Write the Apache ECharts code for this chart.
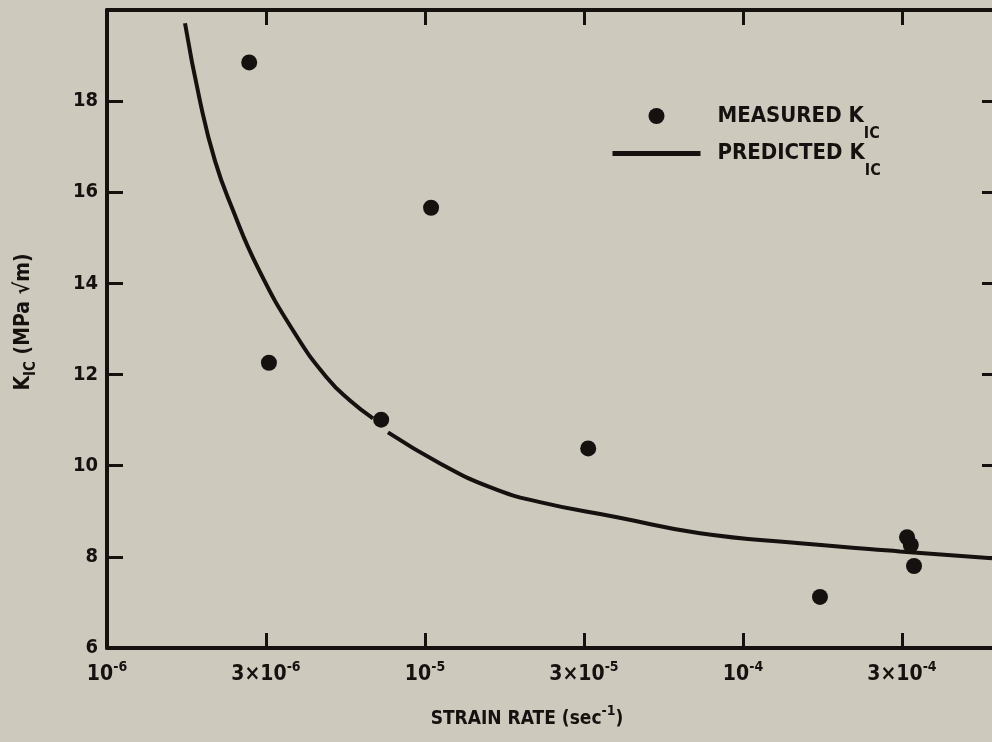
<!DOCTYPE html>
<html><head><meta charset="utf-8">
<script src="https://cdn.jsdelivr.net/npm/echarts@6/dist/echarts.min.js"></script>
<style>html,body{margin:0;padding:0;background:#cdc9bd;} #c{width:992px;height:742px;}</style>
</head><body><div id="c"></div>
<script>
// Strain rate (sec^-1) and K_IC (MPa·√m)
const measuredRate = [2.80e-6, 3.23e-6, 7.28e-6, 1.045e-5, 3.26e-5, 1.746e-4, 3.28e-4, 3.37e-4, 3.45e-4];
const measuredKIC  = [18.85, 12.26, 11.01, 15.66, 10.38, 7.12, 8.43, 8.26, 7.80];
const predictedRateA = [1.759e-6, 1.961e-6, 2.186e-6, 2.472e-6, 2.983e-6, 3.901e-6, 4.918e-6, 5.807e-6, 6.862e-6];
const predictedKICA  = [19.71, 18.00, 16.69, 15.66, 14.34, 12.90, 11.93, 11.43, 11.04];
const predictedRateB = [7.649e-6, 1.115e-5, 1.601e-5, 2.299e-5, 4.017e-5, 7.324e-5, 1.511e-4, 3.116e-4, 6.067e-4];
const predictedKICB  = [10.73, 10.05, 9.53, 9.20, 8.87, 8.52, 8.30, 8.12, 7.97];
const yTicks = [6, 8, 10, 12, 14, 16, 18];
const xTickExponents = [-6, -5.5, -5, -4.5, -4, -3.5];
const legendNames = ['MEASURED', 'PREDICTED'];

const ink = '#15110f';
const font = "'Liberation Sans Narrow', 'DejaVu Sans Condensed', sans-serif";
const toPts = (rs, ks) => rs.map((r, i) => [Math.log10(r), ks[i]]);

function xLabel(v) {
  const ok = xTickExponents.some(t => Math.abs(t - v) < 1e-6);
  if (!ok) return '';
  const e = Math.floor(v + 1e-9);
  if (Math.abs(v - e) < 1e-6) return '{b|10}{sup|' + e + '}';
  return '{b|3×10}{sup|' + e + '}';
}

const rich = {
  b: { fontFamily: font, fontWeight: 'bold', fontSize: 21, color: ink, lineHeight: 30 },
  t: { fontFamily: font, fontWeight: 'bold', fontSize: 19, color: ink, lineHeight: 30 },
  y: { fontFamily: font, fontWeight: 'bold', fontSize: 20, color: ink, lineHeight: 30 },
  sup: { fontFamily: font, fontWeight: 'bold', fontSize: 14, color: ink, verticalAlign: 'top', lineHeight: 30 },
  sub: { fontFamily: font, fontWeight: 'bold', fontSize: 15, color: ink, verticalAlign: 'bottom', lineHeight: 30 }
};
const legendRich = {
  b: { fontFamily: font, fontWeight: 'bold', fontSize: 22, color: ink, lineHeight: 51 },
  sub: { fontFamily: font, fontWeight: 'bold', fontSize: 16, color: ink, verticalAlign: 'bottom', lineHeight: 6 }
};

const chart = echarts.init(document.getElementById('c'), null, { renderer: 'canvas' });
chart.setOption({
  backgroundColor: '#cdc9bd',
  animation: false,
  textStyle: { fontFamily: font, color: ink },
  grid: { left: 107, top: 10, width: 888, height: 638, containLabel: false, outerBoundsMode: 'none' },
  legend: {
    orient: 'vertical', left: 610, top: 105, padding: 0, itemGap: 1,
    itemWidth: 88, itemHeight: 16,
    data: [
      { name: legendNames[0], icon: 'circle', itemStyle: { color: ink, opacity: 1 } },
      { name: legendNames[1], itemStyle: { opacity: 0 }, lineStyle: { width: 5, color: ink } }
    ],
    formatter: n => '{b|' + n + ' K}{sub|IC}',
    textStyle: { rich: legendRich, padding: [0, 0, 0, 12] }
  },
  xAxis: [{
    type: 'value', position: 'bottom', min: -6, max: -6 + 888 / 318, interval: 0.5,
    splitLine: { show: false },
    axisLine: { lineStyle: { color: ink, width: 4 } },
    axisTick: { inside: true, length: 15, lineStyle: { color: ink, width: 3 } },
    axisLabel: { formatter: xLabel, margin: 12, rich: rich, showMaxLabel: false },
    name: '{t|STRAIN RATE (sec}{sup|-1}{t|)}',
    nameLocation: 'middle', nameGap: 56,
    nameTextStyle: { rich: rich, padding: [0, 48, 0, 0] }
  }, {
    type: 'value', position: 'top', min: -6, max: -6 + 888 / 318, interval: 0.5,
    splitLine: { show: false },
    axisLine: { lineStyle: { color: ink, width: 4 } },
    axisTick: { inside: true, length: 15, lineStyle: { color: ink, width: 3 } },
    axisLabel: { show: false }
  }],
  yAxis: [{
    type: 'value', position: 'left', min: 6, max: 20, interval: 2,
    splitLine: { show: false },
    axisLine: { lineStyle: { color: ink, width: 4 } },
    axisTick: { inside: true, length: 16, lineStyle: { color: ink, width: 3 } },
    axisLabel: {
      formatter: v => yTicks.includes(v) ? '{y|' + v + '}' : '',
      margin: 9, rich: rich, showMaxLabel: false
    },
    name: '{b|K}{sub|IC}{b| (MPa √m)}',
    nameLocation: 'middle', nameRotate: 90, nameGap: 68,
    nameTextStyle: { rich: rich, padding: [0, 0, 0, 14] }
  }, {
    type: 'value', position: 'right', min: 6, max: 20, interval: 2,
    splitLine: { show: false },
    axisLine: { lineStyle: { color: ink, width: 4 } },
    axisTick: { inside: true, length: 13, lineStyle: { color: ink, width: 3 } },
    axisLabel: { show: false }
  }],
  series: [{
    name: legendNames[0], type: 'scatter', symbol: 'circle', symbolSize: 16,
    itemStyle: { color: ink, opacity: 1 }, data: toPts(measuredRate, measuredKIC), z: 3
  }, {
    name: legendNames[1], type: 'line', smooth: true, showSymbol: false, symbol: 'none',
    lineStyle: { color: ink, width: 4 }, itemStyle: { color: ink },
    data: toPts(predictedRateA, predictedKICA)
  }, {
    name: legendNames[1], type: 'line', smooth: true, showSymbol: false, symbol: 'none',
    lineStyle: { color: ink, width: 4 }, itemStyle: { color: ink },
    data: toPts(predictedRateB, predictedKICB)
  }]
});
</script></body></html>
